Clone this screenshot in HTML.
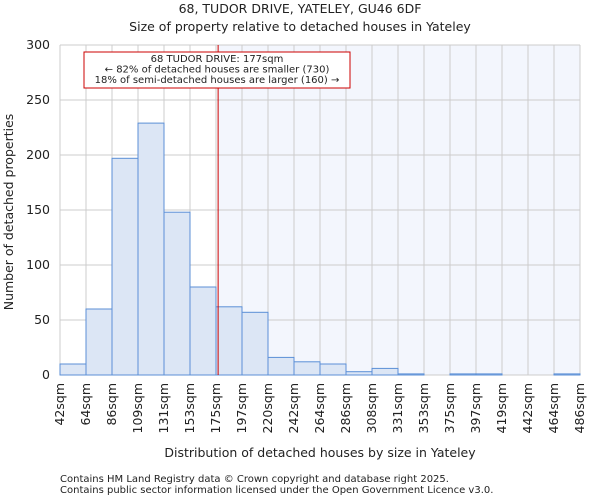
<!DOCTYPE html>
<html><head><meta charset="utf-8"><style>
body{margin:0;background:#fff;font-family:"DejaVu Sans","Liberation Sans",sans-serif;}
svg text{font-family:"DejaVu Sans","Liberation Sans",sans-serif;fill:#222;}
</style></head><body>
<svg id="chart" width="600" height="500" viewBox="0 0 600 500" xmlns="http://www.w3.org/2000/svg">
<text x="300" y="13" font-size="12.5" text-anchor="middle">68, TUDOR DRIVE, YATELEY, GU46 6DF</text>
<text x="300" y="31" font-size="12.5" text-anchor="middle">Size of property relative to detached houses in Yateley</text>
<g id="plot"></g>
<text x="320" y="457" font-size="12.5" text-anchor="middle">Distribution of detached houses by size in Yateley</text>
<text transform="translate(13,212) rotate(-90)" font-size="12.5" text-anchor="middle">Number of detached properties</text>
<text x="60" y="482" font-size="10" fill="#444">Contains HM Land Registry data © Crown copyright and database right 2025.</text>
<text x="60" y="493" font-size="10" fill="#444">Contains public sector information licensed under the Open Government Licence v3.0.</text>
</svg>
<script>
const binLabels=["42sqm","64sqm","86sqm","109sqm","131sqm","153sqm","175sqm","197sqm","220sqm","242sqm","264sqm","286sqm","308sqm","331sqm","353sqm","375sqm","397sqm","419sqm","442sqm","464sqm","486sqm"];
const counts=[10,60,197,229,148,80,62,57,16,12,10,3,6,1,0,1,1,0,0,1];
const yTicks=[0,50,100,150,200,250,300];
const marker=177;
const binStart=42, binWidth=22.2;
const NS="http://www.w3.org/2000/svg";
const L=60,R=580,T=45,B=375,yMax=300;
const n=counts.length, bw=(R-L)/n;
const xb=i=>L+i*bw;
const xv=v=>L+(v-binStart)/binWidth*bw;
const y=v=>B-(v/yMax)*(B-T);
const g=document.getElementById('plot');
function mk(t,a){const e=document.createElementNS(NS,t);for(const k in a)e.setAttribute(k,a[k]);g.appendChild(e);return e;}
const mx=xv(marker);
let e=mk('rect',{x:mx,y:T,width:R-mx,height:B-T,fill:'#f3f6fd'});


yTicks.forEach(t=>{
 let l=mk('line',{x1:L,x2:R,y1:y(t),y2:y(t),stroke:'#ccc','stroke-width':1});
 
 
 let tx=mk('text',{x:L-10,y:y(t)+4,'font-size':12.5,'text-anchor':'end'});
 tx.textContent=t;
 
 
});
binLabels.forEach((lab,i)=>{
 let l=mk('line',{x1:xb(i),x2:xb(i),y1:T,y2:B,stroke:'#ccc','stroke-width':1});
 
 
 let tx=mk('text',{transform:`translate(${xb(i)+4},${B+8}) rotate(-90)`,'font-size':12.5,'text-anchor':'end'});
 tx.textContent=lab;
 
 
});
counts.forEach((c,i)=>{
 let r=mk('rect',{x:xb(i),y:y(c),width:bw,height:B-y(c),fill:'#dce6f5',stroke:'#5b8fd6','stroke-width':1});
 
 
});
e=mk('line',{x1:mx,x2:mx,y1:T,y2:B,stroke:'#c00','stroke-width':1});


e=mk('rect',{x:84,y:52,width:266,height:36,fill:'#fff',stroke:'#c00','stroke-width':1});


["68 TUDOR DRIVE: 177sqm","← 82% of detached houses are smaller (730)","18% of semi-detached houses are larger (160) →"].forEach((s,i)=>{
 let tx=mk('text',{x:217,y:62+i*10.5,'font-size':10,'text-anchor':'middle'});
 tx.textContent=s;
 
 
});
</script>
</body></html>
